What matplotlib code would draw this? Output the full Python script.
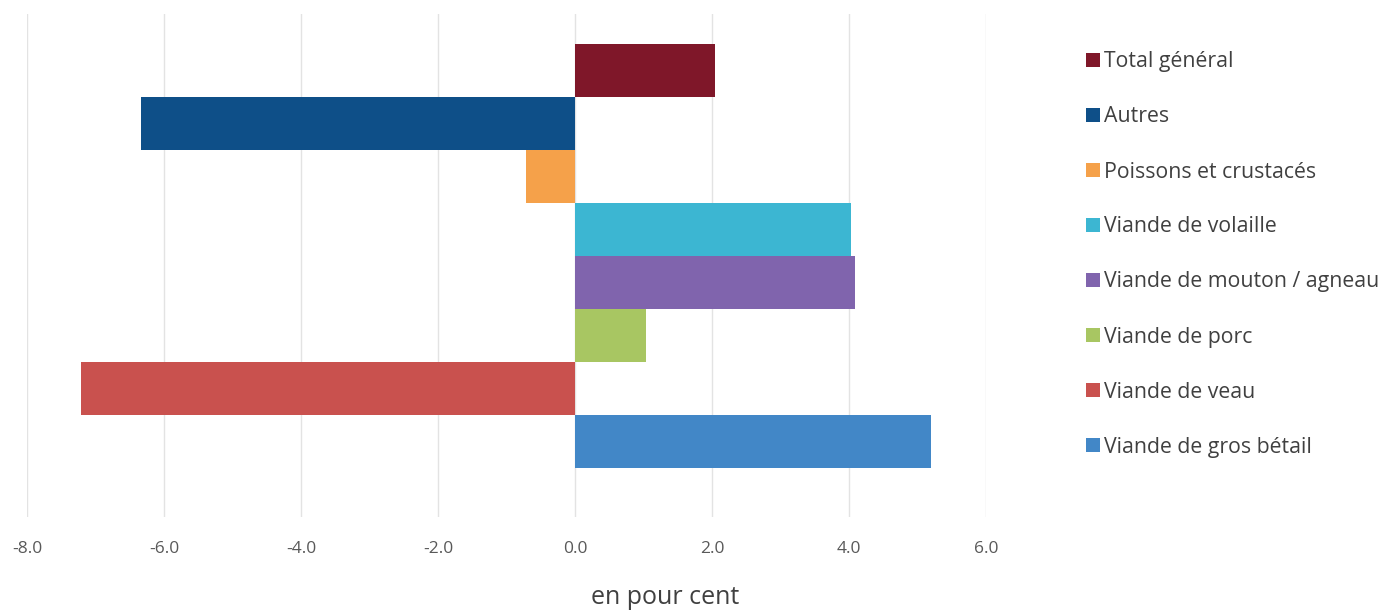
import matplotlib
matplotlib.use("Agg")
import matplotlib.pyplot as plt

# data, top to bottom as in the legend
categories = ["Total général", "Autres", "Poissons et crustacés", "Viande de volaille",
              "Viande de mouton / agneau", "Viande de porc", "Viande de veau",
              "Viande de gros bétail"]
values = [2.05, -6.33, -0.72, 4.03, 4.09, 1.04, -7.21, 5.20]
colors = ["#7F1729", "#0E4F88", "#F5A14A", "#3CB6D2",
          "#8064AD", "#A8C662", "#C9514E", "#4287C7"]
xticks = [-8, -6, -4, -2, 0, 2, 4, 6]

plt.rcParams['font.family'] = ['Open Sans', 'DejaVu Sans']
plt.rcParams['axes.unicode_minus'] = False

W, H = 1385, 614
fig = plt.figure(figsize=(W / 100, H / 100), dpi=100)
ax = fig.add_axes([27 / W, 1 - 517 / H, (986 - 27) / W, (517 - 14) / H])

n = len(categories)
handles = []
for i, (cat, v, c) in enumerate(zip(categories, values, colors)):
    y = n - 1 - i
    b = ax.barh(y, v, height=1.0, color=c, label=cat, zorder=3)
    handles.append(b)

ax.set_xlim(-8, 6)
ax.set_ylim(-1.425, 8.066)
ax.set_xticks(xticks)
ax.set_xticklabels(["%.1f" % t for t in xticks])
ax.set_yticks([])
ax.tick_params(axis='x', length=0, pad=17, labelsize=12.5, labelcolor="#595959")
for s in ax.spines.values():
    s.set_visible(False)
ax.grid(axis='x', color="#E3E3E3", linewidth=1.0, zorder=0)

fig.text(665 / W, 1 - 598 / H, "en pour cent", ha='center', va='center',
         fontsize=18, color="#404040")

leg = fig.legend(handles=handles, labels=categories, loc='upper left',
                 bbox_to_anchor=(1077 / W, 1 - 43 / H), frameon=False,
                 fontsize=15.3, handlelength=0.68, handleheight=0.68,
                 handletextpad=0.2, labelspacing=1.6, borderaxespad=0)
for t in leg.get_texts():
    t.set_color("#404040")

fig.savefig("out.png", dpi=100)
